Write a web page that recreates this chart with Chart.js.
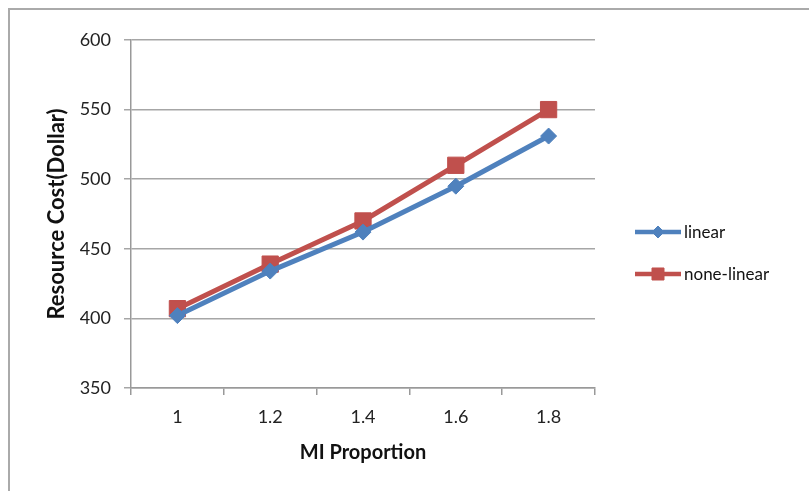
<!DOCTYPE html>
<html>
	<head>
		<title>Resource Cost - LineGraph</title>
		<style type="text/css">
			body { margin: 0; background: #fff; }
			#frame {
				position: absolute;
				left: 8px;
				top: 8px;
				width: 820px;
				height: 500px;
				border-left: 2px solid #aaa;
				border-top: 2px solid #aaa;
			}
			#chart-container {
				position: absolute;
				left: 0;
				top: 0;
				width: 809px;
				height: 491px;
			}
		</style>
	</head>
	<body>
		<div id="frame"></div>
		<div id="chart-container">
			<canvas id="mycanvas" width="809" height="491"></canvas>
		</div>

		<script src="https://cdn.jsdelivr.net/npm/chart.js@4.4.0/dist/chart.umd.min.js"></script>
		<script>
			var proportion = ["1", "1.2", "1.4", "1.6", "1.8"];
			var linearCost = [402, 434, 462, 495, 531];
			var noneLinearCost = [407, 439, 470, 510, 550];
			var yTicks = [350, 400, 450, 500, 550, 600];

			var font = "Lato, 'Open Sans', sans-serif";
			var blue = "#4F81BD";
			var red = "#C0504D";

			// legend drawn like excel: a short line with the marker on it
			var sideLegend = {
				id: "sideLegend",
				afterDraw: function(chart) {
					var ctx = chart.ctx;
					var area = chart.chartArea;
					var x0 = area.right + 40;
					var y0 = (area.top + area.bottom) / 2 + 18;
					var legendRadius = [6, 8.5];
					chart.data.datasets.forEach(function(ds, i) {
						var y = y0 + i * 42;
						ctx.save();
						ctx.strokeStyle = ds.borderColor;
						ctx.lineWidth = 4.5;
						ctx.beginPath();
						ctx.moveTo(x0, y);
						ctx.lineTo(x0 + 46, y);
						ctx.stroke();
						ctx.fillStyle = ds.backgroundColor;
						ctx.lineWidth = 1;
						Chart.helpers.drawPoint(ctx, {
							pointStyle: ds.pointStyle,
							radius: legendRadius[i],
							borderWidth: 1
						}, x0 + 23, y);
						ctx.fillStyle = "#111";
						ctx.font = "17px " + font;
						ctx.textBaseline = "middle";
						ctx.fillText(ds.label, x0 + 49, y + 1);
						ctx.restore();
					});
				}
			};

			var ctx = document.getElementById("mycanvas");

			var lineGraph = new Chart(ctx, {
				type: "line",
				data: {
					labels: proportion,
					datasets: [
						{
							label: "linear",
							data: linearCost,
							borderColor: blue,
							backgroundColor: blue,
							borderWidth: 5,
							pointStyle: "rectRot",
							pointRadius: 8,
							pointBorderWidth: 1,
							tension: 0
						},
						{
							label: "none-linear",
							data: noneLinearCost,
							borderColor: red,
							backgroundColor: red,
							borderWidth: 5,
							pointStyle: "rect",
							pointRadius: 11.5,
							pointBorderWidth: 1,
							tension: 0
						}
					]
				},
				options: {
					responsive: false,
					animation: false,
					layout: {
						padding: { top: 40, right: 214, bottom: 0, left: 0 }
					},
					plugins: {
						legend: { display: false },
						tooltip: { enabled: false }
					},
					scales: {
						x: {
							offset: true,
							afterFit: function(scale) { scale.height = 103; },
							grid: {
								offset: true,
								drawOnChartArea: false,
								color: "#999",
								lineWidth: 1.5,
								tickLength: 7
							},
							border: { color: "#999", width: 1.5 },
							ticks: {
								color: "#222",
								padding: 11,
								font: { family: font, size: 18 }
							},
							title: {
								display: true,
								text: "MI Proportion",
								color: "#111",
								padding: { top: 0, bottom: 26 },
								font: { family: font, size: 20, weight: "bold" }
							}
						},
						y: {
							min: yTicks[0],
							max: yTicks[yTicks.length - 1],
							afterFit: function(scale) { scale.width = 131; },
							afterBuildTicks: function(scale) {
								scale.ticks = yTicks.map(function(v) { return { value: v }; });
							},
							grid: {
								color: "#a6a6a6",
								lineWidth: 1.5,
								tickLength: 7
							},
							border: { color: "#999", width: 1.5 },
							ticks: {
								color: "#222",
								padding: 13,
								font: { family: font, size: 18 }
							},
							title: {
								display: true,
								text: "Resource Cost(Dollar)",
								color: "#111",
								padding: { top: 44, bottom: 0 },
								font: { family: font, size: 22, weight: "bold" }
							}
						}
					}
				},
				plugins: [sideLegend]
			});
		</script>
	</body>
</html>
